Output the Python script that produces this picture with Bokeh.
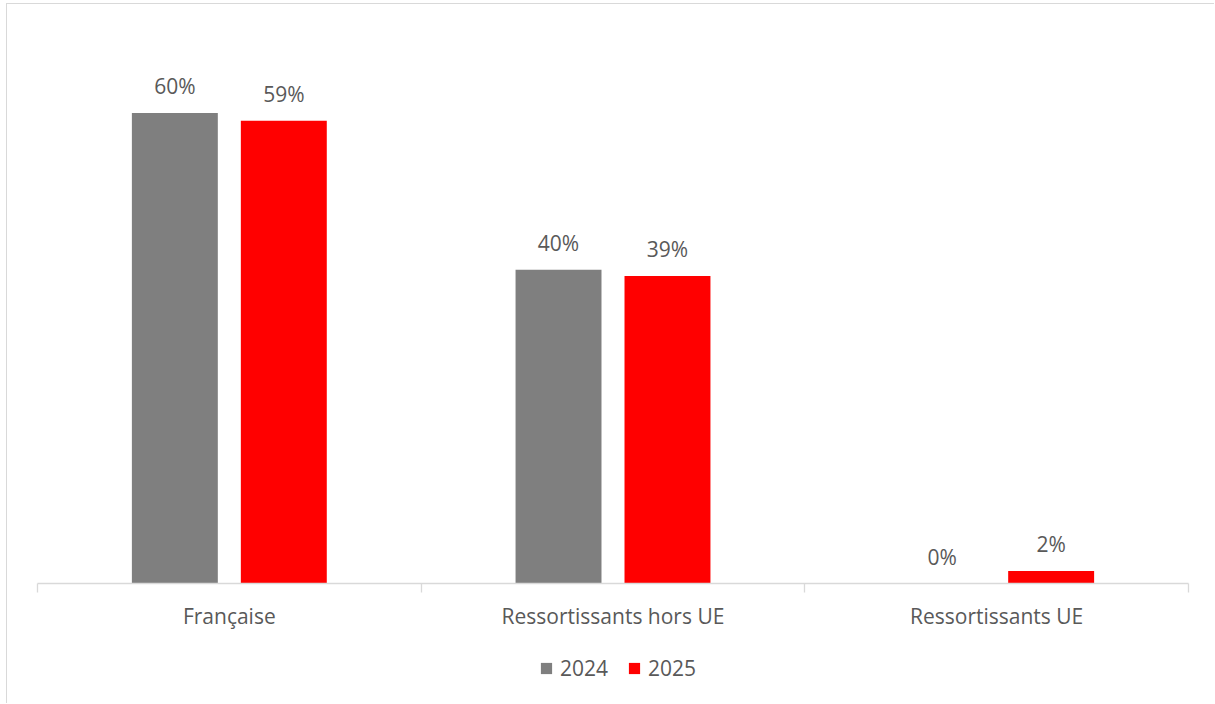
from bokeh.plotting import figure
from bokeh.layouts import column
from bokeh.models import ColumnDataSource, Range1d, FixedTicker, Legend, LegendItem, LinearAxis
from bokeh.transform import dodge
from bokeh.core.properties import value
from bokeh.embed import file_html
from bokeh.resources import INLINE

categories = ["Française", "Ressortissants hors UE", "Ressortissants UE"]
series_names = ["2024", "2025"]
values_2024 = [60.0, 40.0, 0.0]
values_2025 = [59.0, 39.2, 1.6]
colors = ["#7f7f7f", "#ff0000"]

FONT = "Open Sans"
TEXT_COLOR = "#595959"
FS = "21px"

xc = [i + 0.5 for i in range(len(categories))]
src = ColumnDataSource(dict(
    xc=xc,
    v2024=[v / 100 for v in values_2024],
    v2025=[v / 100 for v in values_2025],
    t2024=[f"{round(v)}%" for v in values_2024],
    t2025=[f"{round(v)}%" for v in values_2025],
))

p = figure(width=1207, height=639, output_backend="svg", toolbar_location=None,
           x_range=Range1d(0, len(categories)), y_range=Range1d(0, 0.70),
           min_border_left=30, min_border_right=26, min_border_top=30, min_border_bottom=60,
           x_axis_location=None, y_axis_location=None)
p.grid.visible = False
p.outline_line_color = None

off = 0.142
w = 0.224
p.vbar(x=dodge("xc", -off, range=p.x_range), top="v2024", width=w, source=src,
       fill_color=colors[0], line_color=None)
p.vbar(x=dodge("xc", off, range=p.x_range), top="v2025", width=w, source=src,
       fill_color=colors[1], line_color=None)

for dx, col in [(-off, "v2024"), (off, "v2025")]:
    tcol = "t" + col[1:]
    p.text(x=dodge("xc", dx, range=p.x_range), y=col, text=tcol, source=src,
           text_align="center", text_baseline="alphabetic", y_offset=-27,
           text_font=value(FONT), text_font_size=FS, text_color=TEXT_COLOR)

ax = LinearAxis(ticker=FixedTicker(ticks=xc, minor_ticks=[0, 1, 2, 3]))
ax.major_label_overrides = {x: c for x, c in zip(xc, categories)}
ax.axis_line_color = "#d9d9d9"
ax.axis_line_width = 1.3
ax.major_tick_line_color = None
ax.minor_tick_line_color = "#d9d9d9"
ax.minor_tick_line_width = 1.3
ax.minor_tick_in = 0
ax.minor_tick_out = 9
ax.major_tick_in = 0
ax.major_tick_out = 0
ax.major_label_standoff = 9
ax.major_label_text_font = FONT
ax.major_label_text_font_size = FS
ax.major_label_text_color = TEXT_COLOR
p.add_layout(ax, "below")

# legend strip (separate figure so the legend is not clipped)
p2 = figure(width=1207, height=60, output_backend="svg", toolbar_location=None,
            x_range=Range1d(0, len(categories)), y_range=Range1d(2, 3),
            min_border=0, x_axis_location=None, y_axis_location=None)
p2.grid.visible = False
p2.outline_line_color = None
l1 = p2.vbar(x="xc", top="v2024", width=w, source=src, fill_color=colors[0], line_color=None)
l2 = p2.vbar(x="xc", top="v2025", width=w, source=src, fill_color=colors[1], line_color=None)

legend = Legend(items=[LegendItem(label=series_names[0], renderers=[l1]),
                       LegendItem(label=series_names[1], renderers=[l2])],
                orientation="horizontal", location=(502, 21),
                glyph_width=14, glyph_height=14, label_standoff=7, spacing=19,
                padding=0, margin=0, border_line_color=None, background_fill_alpha=0,
                label_text_font=FONT, label_text_font_size=FS,
                label_text_color=TEXT_COLOR)
p2.add_layout(legend, "center")

layout = column(p, p2, spacing=0)
layout.styles = {"border-top": "1px solid #d9d9d9", "border-left": "1px solid #d9d9d9",
                 "margin-left": "6px", "margin-top": "3px"}

open("out.html", "w").write(file_html(layout, INLINE))
